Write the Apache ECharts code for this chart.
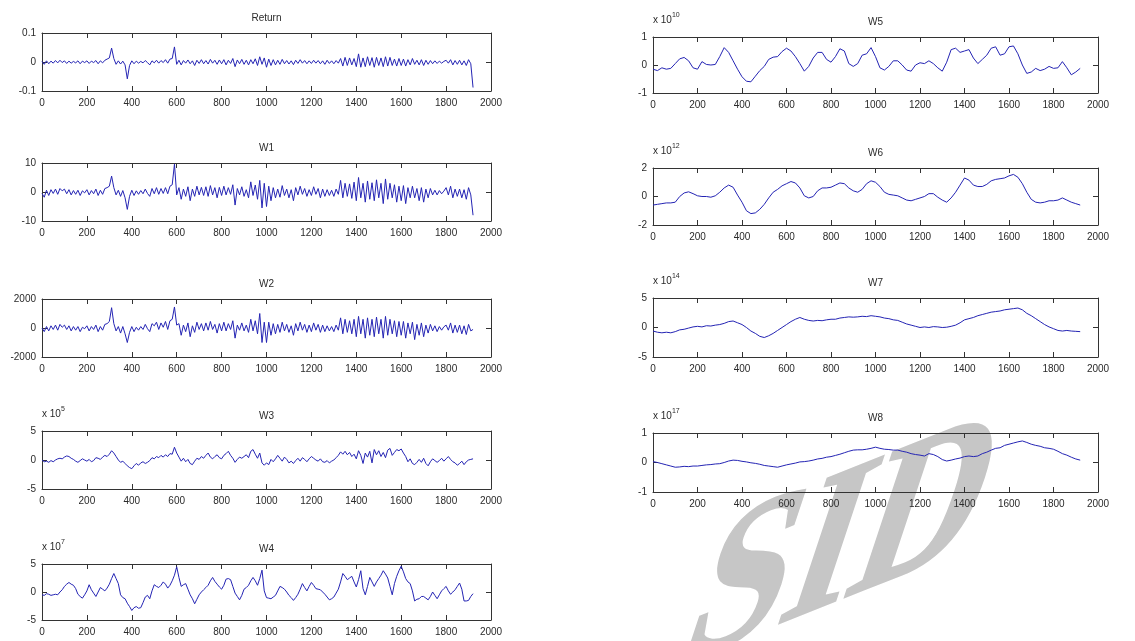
<!DOCTYPE html>
<html>
<head>
<meta charset="utf-8">
<title>Return and wavelet details W1-W8</title>
<script src="https://cdn.jsdelivr.net/npm/echarts@6/dist/echarts.min.js"></script>
<style>
  html, body { margin: 0; padding: 0; background: #fff; }
  #main { width: 1135px; height: 641px; }
</style>
</head>
<body>
<div id="main"></div>
<script>
// values, one row = 200 on the x axis
// Return, W1..W4 sampled every 10, W5..W8 every 20 (x from 0 to 1920)
const returnVals = [
  0.002,-0.008,0.004,-0.006,0.003,-0.004,0.005,-0.003,0.006,-0.002,0.004,-0.005,0.003,-0.004,0.002,-0.003,0.004,-0.006,0.003,-0.002,
  0.004,-0.005,0.003,-0.002,0.005,-0.006,0.004,-0.003,0.006,0.010,0.014,0.048,0.012,-0.008,0.004,-0.007,0.003,-0.010,-0.058,-0.012,
  0.004,-0.006,0.003,-0.004,0.002,-0.003,0.005,-0.002,-0.010,0.004,-0.003,0.006,-0.004,0.005,-0.002,0.008,-0.004,0.010,0.012,0.052,
  -0.008,0.006,-0.010,0.005,-0.004,0.007,-0.006,0.004,-0.012,0.006,-0.005,0.008,-0.006,0.005,-0.007,0.009,-0.004,0.006,-0.008,0.007,
  -0.006,0.008,-0.010,0.006,-0.005,0.012,-0.016,0.007,-0.006,0.009,-0.008,0.006,-0.010,0.008,-0.006,0.011,-0.012,0.018,-0.008,0.014,
  -0.018,0.010,-0.012,0.008,-0.010,0.006,-0.008,0.009,-0.006,0.005,-0.007,0.004,-0.009,0.006,-0.005,0.008,-0.004,0.005,-0.006,0.004,
  -0.005,0.006,-0.004,0.005,-0.006,0.004,-0.008,0.006,-0.005,0.004,-0.006,0.005,-0.004,0.012,-0.014,0.016,-0.012,0.014,-0.010,0.012,
  -0.016,0.028,-0.018,0.014,-0.016,0.018,-0.012,0.015,-0.018,0.016,-0.012,0.014,-0.016,0.018,-0.014,0.016,-0.012,0.010,-0.014,0.012,
  -0.012,0.010,-0.014,0.008,-0.010,0.012,-0.008,0.006,-0.010,0.008,-0.012,0.006,-0.008,0.005,-0.006,0.004,-0.005,0.003,-0.004,0.002,
  0.006,-0.004,0.008,-0.010,0.005,-0.008,0.006,-0.010,0.004,-0.012,0.008,-0.006,-0.088
];
const w1 = [
  -0.5,-1.8,0.6,-1.2,0.8,-0.5,1.0,-0.8,1.2,0.4,1.0,-0.6,0.8,-1.0,0.5,-0.8,0.6,-1.2,0.4,-0.3,
  0.8,-1.0,0.5,-0.6,1.0,-1.2,0.6,-0.8,1.2,1.5,2.0,5.5,1.5,-1.0,0.6,-1.5,0.5,-2.0,-6.0,-1.5,
  0.6,-1.2,0.4,-0.8,0.5,-0.6,1.0,-0.5,-1.5,1.2,-0.6,1.5,-0.8,1.2,-0.5,1.5,-0.6,2.0,2.5,9.6,
  -1.0,1.5,-2.5,1.0,-1.5,1.8,-3.0,1.0,-1.5,2.0,-1.0,1.6,-1.2,1.8,-1.5,2.2,-1.0,1.5,-2.0,1.6,
  -1.2,2.0,-1.0,1.5,-0.8,2.5,-4.5,1.2,-1.0,1.8,-1.5,0.8,-2.0,3.5,-1.2,2.4,-2.5,4.0,-5.5,3.0,
  -5.0,2.0,-3.0,1.5,-2.0,1.0,-1.8,2.2,-1.2,1.0,-2.0,0.8,-3.0,1.5,-1.0,2.0,-0.8,1.2,-1.5,0.8,
  -1.2,1.8,-0.8,1.2,-2.0,1.0,-1.5,0.8,-1.2,0.6,-1.5,1.0,-0.8,4.0,-2.0,3.0,-1.5,2.8,-2.2,3.4,
  -3.0,5.0,-2.0,3.0,-3.5,3.8,-2.5,3.2,-3.0,4.2,-2.0,3.0,-4.0,4.5,-2.5,3.0,-2.0,2.5,-3.5,2.0,
  -3.0,2.2,-4.0,1.5,-2.0,2.0,-2.0,1.2,-3.0,1.5,-3.5,1.0,-2.0,1.2,-1.0,0.6,-1.0,0.5,-0.6,0.3,
  1.5,-1.0,2.0,-2.0,1.0,-1.5,1.0,-2.0,0.8,-2.5,1.5,-1.0,-8.0
];
const w2 = [
  0,-250,100,-200,150,-100,200,-150,250,50,200,-100,150,-200,100,-150,100,-250,50,-50,
  150,-200,100,-100,200,-250,100,-150,250,300,450,1400,300,-200,100,-350,100,-400,-1000,-300,
  100,-250,50,-150,100,-100,250,-50,-250,300,150,400,-100,350,50,450,-100,500,600,1450,
  200,300,-500,200,-250,350,-600,150,-300,400,-100,300,-200,350,-150,450,-100,250,-350,300,
  -200,400,-200,300,-100,500,-700,200,-150,350,-200,200,-300,600,-200,500,-400,1000,-1000,400,
  -1000,400,-500,300,-400,250,-300,400,-200,250,-300,150,-500,300,-200,400,-150,250,-300,200,
  -250,350,-150,250,-300,200,-250,150,-200,100,-250,200,-150,700,-400,600,-300,500,-400,600,
  -600,800,-400,600,-700,700,-500,600,-600,750,-400,600,-700,800,-500,600,-400,500,-600,450,
  -500,450,-700,350,-400,400,-800,250,-500,350,-600,200,-350,250,-200,150,-250,100,-150,80,
  200,-150,350,-350,200,-300,200,-400,150,-450,250,-200,-100
];
// x 10^5
const w3 = [
  0,-0.3,-0.2,-0.4,-0.1,-0.3,0,0.2,0.3,0.2,0.5,0.7,0.6,0.3,0.1,-0.2,-0.4,-0.1,0.2,0,
  -0.2,0.1,-0.3,-0.1,0.4,0.3,0.1,0.5,0.8,0.6,1.0,1.6,1.2,0.6,0,-0.4,-0.2,-0.6,-1.0,-1.3,
  -1.5,-1.0,-0.6,-0.9,-0.5,-0.3,-0.6,-0.4,-0.1,0.4,0.2,0.6,0.4,0.8,0.5,0.9,0.6,1.1,1.0,2.2,
  1.2,0.5,-0.2,0.3,-0.3,0.1,-0.6,-0.8,-0.2,0.3,0.1,0.6,0.3,0.8,1.2,0.5,0.2,0.6,0.9,0.4,
  0.2,0.8,1.1,1.5,0.8,0.3,-0.4,0.1,0.5,0.3,0.6,0.9,0.4,1.5,1.8,1.0,0.3,1.2,-0.5,-0.9,
  -0.5,-0.8,0.1,-0.3,0.2,0.8,0.3,-0.2,0.5,0.1,-0.5,-0.2,-0.6,-0.1,0.3,-0.2,0.4,0.1,-0.3,0.2,
  0.6,0.3,0,-0.2,0.2,-0.3,-0.4,-0.1,-0.5,-0.2,0,0.4,0.8,1.4,1.0,1.5,0.9,1.3,0.6,1.0,
  0.2,1.6,0.8,-0.6,1.2,0.5,1.5,-0.5,1.8,0.9,1.6,0.6,1.3,0.4,1.7,2.0,0.8,1.3,1.8,1.6,
  1.9,1.2,0.6,-0.3,0.2,-0.6,-0.8,-0.4,0.1,-0.4,0.3,-0.6,-1.0,-0.3,0.2,-0.1,-0.4,-0.1,0.3,-0.2,
  0.2,0.6,0.1,-0.3,-0.5,-0.9,-0.6,-0.2,-0.8,-0.3,0,0.1,0.2
];
// x 10^7
const w4 = [
  -0.5,-0.6,-0.3,-0.4,-0.6,-0.5,-0.4,-0.5,0,0.4,1.0,1.4,1.7,1.4,1.2,0.6,-0.4,-0.8,-1.1,-0.5,
  0.2,1.3,0.4,-0.2,-0.8,0,0.8,0.5,0.2,0.7,1.4,2.4,3.3,2.4,1.5,-0.5,-1.0,-1.2,-2.0,-2.6,
  -3.3,-2.8,-2.6,-2.9,-2.8,-1.9,-0.9,-0.6,-1.2,0.2,1.3,1.0,0.8,1.2,1.8,1.4,0.7,1.2,2.0,3.0,
  4.5,2.6,1.0,1.3,1.5,0.5,-0.5,-1.2,-2.1,-1.3,-0.5,0,0.4,0.8,1.2,2.0,2.6,1.9,1.4,0.9,
  0.5,1.2,2.3,2.4,2.2,1.0,-0.2,-0.8,-1.4,-0.6,0.5,0.8,1.2,2.0,2.6,2.0,1.2,2.4,3.9,0.2,
  -1.0,-1.1,-1.2,-0.9,-0.6,0.2,1.0,0.8,0.5,0,-0.6,-1.0,-1.5,-1.0,-0.4,0.5,1.5,0.8,0.2,1.0,
  1.7,1.2,0.6,0.5,0.4,0,-0.4,-0.9,-1.4,-1.2,-0.9,-0.2,0.5,1.8,3.3,2.8,2.2,2.5,2.8,1.8,
  0.9,2.2,3.8,0.6,-0.5,1.0,2.6,1.8,1.0,1.8,2.4,3.0,3.8,3.2,2.5,1.0,-0.5,1.5,2.8,3.8,
  4.6,3.6,2.4,1.8,1.5,0.2,-1.6,-1.3,-1.2,-0.8,-0.8,-1.1,-1.4,-0.8,0,-0.6,-1.2,-0.5,0.2,0.6,
  1.0,0.2,-0.4,0,0.4,1.0,1.6,0.5,-1.6,-1.6,-1.5,-0.8,-0.3
];
// x 10^10
const w5 = [
  -0.15,-0.2,-0.1,-0.15,-0.12,0.05,0.22,0.27,0.15,-0.1,
  -0.15,0.12,0.02,0.0,0.02,0.3,0.62,0.45,0.15,-0.15,
  -0.42,-0.58,-0.6,-0.4,-0.2,-0.05,0.2,0.28,0.3,0.48,
  0.6,0.5,0.3,0.05,-0.22,-0.05,0.25,0.45,0.45,0.2,
  0.1,0.3,0.58,0.5,0.05,-0.05,0.05,0.35,0.4,0.62,
  0.3,-0.1,-0.18,-0.05,0.15,0.15,0.0,-0.18,-0.22,0.0,
  0.08,0.05,0.15,0.05,-0.1,-0.22,0.1,0.55,0.6,0.45,
  0.5,0.55,0.25,0.05,0.2,0.35,0.6,0.65,0.35,0.4,
  0.65,0.68,0.4,0.0,-0.3,-0.25,-0.12,-0.2,-0.15,-0.05,
  -0.12,-0.1,0.12,-0.1,-0.35,-0.25,-0.12
];
// x 10^12
const w6 = [
  -0.6,-0.55,-0.5,-0.45,-0.45,-0.4,0.0,0.25,0.33,0.2,
  0.05,0.0,0.0,-0.05,0.05,0.3,0.6,0.8,0.65,0.1,
  -0.4,-1.0,-1.2,-1.15,-0.9,-0.55,-0.1,0.3,0.5,0.75,
  0.9,1.05,0.95,0.6,0.05,-0.1,0.0,0.4,0.6,0.6,
  0.65,0.8,0.95,0.9,0.6,0.4,0.3,0.5,0.9,1.1,
  1.0,0.7,0.3,0.15,0.1,0.05,-0.1,-0.25,-0.3,-0.2,
  -0.1,0.0,0.2,0.2,-0.05,-0.25,-0.4,-0.1,0.3,0.8,
  1.3,1.15,0.8,0.7,0.7,0.85,1.1,1.2,1.25,1.3,
  1.45,1.55,1.35,0.9,0.3,-0.2,-0.4,-0.45,-0.4,-0.3,
  -0.3,-0.25,-0.1,-0.25,-0.4,-0.5,-0.6
];
// x 10^14
const w7 = [
  -0.6,-0.8,-0.9,-0.8,-0.9,-0.7,-0.4,-0.3,-0.1,0.1,
  0.2,0.1,0.3,0.25,0.4,0.5,0.7,1.0,1.1,0.8,
  0.5,0.0,-0.6,-1.0,-1.5,-1.7,-1.4,-1.0,-0.5,0.0,
  0.5,1.0,1.4,1.7,1.4,1.2,1.1,1.2,1.15,1.3,
  1.4,1.4,1.6,1.7,1.8,1.75,1.8,1.9,1.85,2.0,
  1.9,1.8,1.6,1.5,1.3,1.2,0.9,0.6,0.4,0.2,
  0.0,0.1,0.0,0.15,0.1,0.0,0.05,0.2,0.4,0.8,
  1.3,1.5,1.7,2.0,2.2,2.4,2.6,2.7,2.8,3.0,
  3.1,3.2,3.3,3.0,2.4,2.0,1.5,1.0,0.5,0.1,
  -0.2,-0.5,-0.6,-0.5,-0.6,-0.65,-0.7
];
// x 10^17
const w8 = [
  0.03,0.0,-0.04,-0.08,-0.12,-0.16,-0.15,-0.13,-0.14,-0.12,
  -0.12,-0.1,-0.08,-0.07,-0.05,-0.04,0.0,0.05,0.08,0.07,
  0.04,0.02,-0.01,-0.03,-0.06,-0.1,-0.12,-0.14,-0.16,-0.12,
  -0.08,-0.05,-0.02,0.02,0.03,0.05,0.08,0.12,0.14,0.18,
  0.2,0.24,0.28,0.33,0.38,0.42,0.43,0.43,0.45,0.48,
  0.52,0.48,0.45,0.44,0.42,0.42,0.38,0.35,0.3,0.27,
  0.25,0.22,0.3,0.27,0.2,0.1,0.05,0.08,0.12,0.15,
  0.2,0.22,0.2,0.22,0.3,0.35,0.42,0.48,0.5,0.58,
  0.62,0.66,0.7,0.73,0.68,0.62,0.58,0.55,0.5,0.48,
  0.45,0.38,0.3,0.25,0.18,0.12,0.08
];

const panelTitles = ['Return', 'W1', 'W2', 'W3', 'W4', 'W5', 'W6', 'W7', 'W8'];
const panelValues = [returnVals, w1, w2, w3, w4, w5, w6, w7, w8];
const sampleStep = [10, 10, 10, 10, 10, 20, 20, 20, 20];
const yLimit = [0.1, 10, 2000, 5, 5, 1, 2, 5, 1];
const yExponent = ['', '', '', '5', '7', '10', '12', '14', '17'];
const xMin = 0, xMax = 2000, xStep = 200;

// plot boxes [left, top, width, height] in px
const boxes = [
  [42, 33, 449, 58], [42, 163, 449, 58], [42, 299, 449, 58], [42, 431, 449, 58], [42, 564, 449, 56],
  [653, 37, 445, 56], [653, 168, 445, 57], [653, 298, 445, 59], [653, 433, 445, 59]
];

const ink = '#2a2a2a';
const lineBlue = '#2424b4';
const tickFont = '"Liberation Sans Narrow", "Liberation Sans", Arial, sans-serif';
const frame = { show: true, onZero: false, lineStyle: { color: '#333', width: 1 } };
const inTick = { show: true, inside: true, length: 5, lineStyle: { color: '#333' } };
const plain = v => String(v);   // no thousands separator, like the original

const grid = [], xAxis = [], yAxis = [], series = [];
panelTitles.forEach((title, i) => {
  const [left, top, width, height] = boxes[i];
  grid.push({ left, top, width, height, containLabel: false });
  const lim = yLimit[i];
  xAxis.push({
    gridIndex: i, type: 'value', position: 'bottom', min: xMin, max: xMax, interval: xStep,
    axisLine: frame, axisTick: inTick, splitLine: { show: false },
    axisLabel: { margin: 7, fontSize: 10, color: ink, fontFamily: tickFont, formatter: plain }
  });
  xAxis.push({
    gridIndex: i, type: 'value', position: 'top', min: xMin, max: xMax, interval: xStep,
    axisLine: frame, axisTick: inTick, splitLine: { show: false }, axisLabel: { show: false },
    name: title, nameLocation: 'middle', nameGap: 10,
    nameTextStyle: { fontSize: 10, color: ink, fontFamily: 'Liberation Sans, Arial, sans-serif' }
  });
  const exp = yExponent[i];
  yAxis.push({
    gridIndex: i, type: 'value', position: 'left', min: -lim, max: lim, interval: lim,
    axisLine: frame, axisTick: inTick, splitLine: { show: false },
    axisLabel: { margin: 6, fontSize: 10, color: ink, fontFamily: tickFont, formatter: plain },
    name: exp ? '{a|x 10}{b|' + exp + '}' : '', nameLocation: 'end', nameGap: 9,
    nameTextStyle: {
      align: 'left', verticalAlign: 'bottom',
      rich: {
        a: { fontSize: 10, lineHeight: 16, color: ink, fontFamily: tickFont },
        b: { fontSize: 7, verticalAlign: 'top', color: ink, fontFamily: tickFont }
      }
    }
  });
  yAxis.push({
    gridIndex: i, type: 'value', position: 'right', min: -lim, max: lim, interval: lim,
    axisLine: frame, axisTick: inTick, splitLine: { show: false }, axisLabel: { show: false }
  });
  const step = sampleStep[i];
  series.push({
    type: 'line', xAxisIndex: 2 * i, yAxisIndex: 2 * i,
    data: panelValues[i].map((v, k) => [k * step, v]),
    showSymbol: false, symbol: 'none', silent: true,
    lineStyle: { color: lineBlue, width: 1 }, z: 3
  });
});

const chart = echarts.init(document.getElementById('main'), null, { renderer: 'canvas' });
chart.setOption({
  animation: false,
  backgroundColor: '#ffffff',
  grid, xAxis, yAxis, series,
  // grey "SID" watermark behind the plots
  graphic: [{
    type: 'text', x: 841, y: 549, rotation: 0.38, scaleX: 0.9, scaleY: 0.85, skewX: -0.7, z: 0,
    style: {
      text: 'SID', font: 'bold 210px "Liberation Serif", "DejaVu Serif", serif',
      fill: '#c6c6c6', stroke: '#c6c6c6', lineWidth: 2,
      align: 'center', verticalAlign: 'middle'
    }
  }]
});
</script>
</body>
</html>
